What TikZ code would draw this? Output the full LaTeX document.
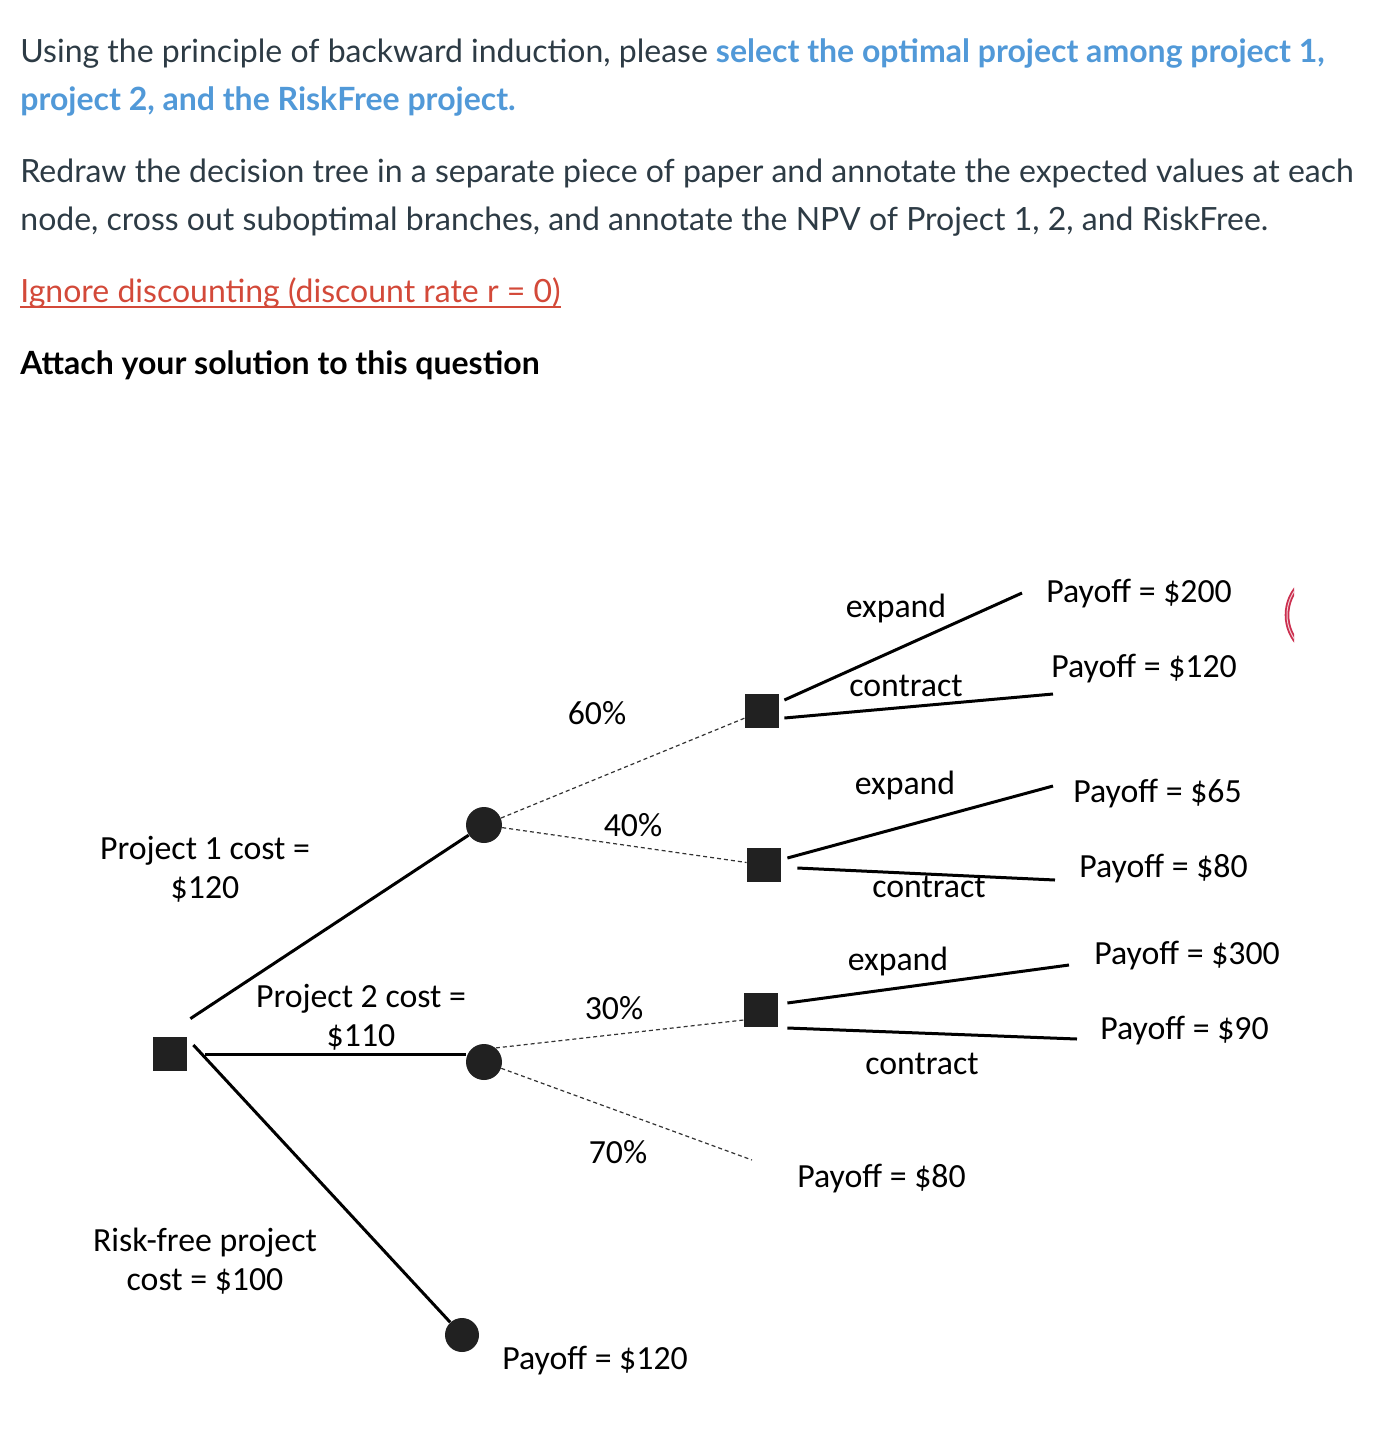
\documentclass[tikz,border=0pt]{standalone}
\usepackage{fontspec}
\setmainfont{Lato}
\newfontfamily\calibri{Carlito}
\usepackage{xcolor}
\usepackage{tikz}
\usetikzlibrary{positioning, calc}
\definecolor{CanvasText}{RGB}{45,59,69}
\definecolor{CanvasBlue}{RGB}{81,153,216}
\definecolor{CanvasRed}{RGB}{211,73,57}
\definecolor{RingRed}{RGB}{203,46,78}

\begin{document}
\begin{tikzpicture}[x=0.5pt, y=-0.5pt,
    head/.style={anchor=base west, inner sep=0pt, font=\fontsize{16}{19}\selectfont, text=CanvasText},
    lbl/.style={inner sep=0pt, font=\calibri\fontsize{16.9}{19.5}\selectfont, align=center},
    decision/.style={fill=black!87, minimum size=17pt, inner sep=0pt},
    chance/.style={circle, fill=black!87, minimum size=18pt, inner sep=0pt},
    branch/.style={line width=1.5pt},
    event/.style={dash pattern=on 2pt off 1.5pt, line width=0.6pt, black!80}]
    \fill[white] (0,0) rectangle (1378,1432);
    \useasboundingbox (0,0) rectangle (1378,1432);

    % question text
    \node[head] (intro) at (20,62) {Using the principle of backward induction, please \textcolor{CanvasBlue}{\bfseries select the optimal project among project 1,}};
    \node[head, text=CanvasBlue, font=\fontsize{16}{19}\selectfont\bfseries] (intro2) at (20,110) {project 2, and the RiskFree project.};
    \node[head] (task) at (20,182) {Redraw the decision tree in a separate piece of paper and annotate the expected values at each};
    \node[head] (task2) at (20,230) {node, cross out suboptimal branches, and annotate the NPV of Project 1, 2, and RiskFree.};
    \node[head, text=CanvasRed] (ign) at (20,302) {Ignore discounting (discount rate r = 0)};
    \draw[CanvasRed, line width=1.1pt] ([yshift=-2.5pt]ign.base west) -- ([yshift=-2.5pt]ign.base east);
    \node[head, text=black, font=\fontsize{16}{19}\selectfont\bfseries] (attach) at (20,374) {Attach your solution to this question};

    % cut-off ring at the right
    \begin{scope}
        \clip (1270,580) rectangle (1294,650);
        \draw[RingRed, line width=0.9pt, double=RingRed!25, double distance=0.5pt] (1330,615) circle[radius=43];
    \end{scope}

    % tree nodes
    \node[decision] (root) at (170,1054) {};
    \node[chance] (c1) at (484,825) {};
    \node[chance] (c2) at (484,1062) {};
    \node[chance, minimum size=17pt] (rf) at (462,1335) {};
    \node[decision] (d1) at (762,711) {};
    \node[decision] (d2) at (764,865) {};
    \node[decision] (d3) at (761,1010) {};
    \coordinate (e70) at (752,1160);

    % payoffs
    \node[lbl, anchor=west] (pay200) at (1046,594) {Payoff = \$200};
    \node[lbl, anchor=west] (pay120) at (1051,669) {Payoff = \$120};
    \node[lbl, anchor=west] (pay65) at (1073,794) {Payoff = \$65};
    \node[lbl, anchor=west] (pay80) at (1079,869) {Payoff = \$80};
    \node[lbl, anchor=west] (pay300) at (1094,956) {Payoff = \$300};
    \node[lbl, anchor=west] (pay90) at (1100,1031) {Payoff = \$90};
    \node[lbl, anchor=west] (payweak) at (797,1179) {Payoff = \$80};
    \node[lbl, anchor=west] (payrf) at (502,1361) {Payoff = \$120};

    % projects
    \draw[branch] ([shift={(3,-18)}]root.north east) -- (c1);
    \draw[branch, shorten <=9pt] (root.east) -- (root.east -| c2.west);
    \draw[branch] ([shift={(6,-9)}]root.east) -- (rf);
    \node[lbl] (p1) at (205,869) {Project 1 cost =\\\$120};
    \node[lbl] (p2) at (361,1017) {Project 2 cost =\\\$110};
    \node[lbl] (p3) at (205,1261) {Risk-free project\\cost = \$100};

    % chance branches
    \draw[event] (c1) -- (d1);
    \draw[event] (c1) -- (d2);
    \draw[event] (c2.50) -- ([shift={(0,10)}]d3.west);
    \draw[event] (c2) -- (e70);
    \node[lbl] (q60) at (597,713) {60\%};
    \node[lbl] (q40) at (633,825) {40\%};
    \node[lbl] (q30) at (614,1008) {30\%};
    \node[lbl] (q70) at (618,1152) {70\%};

    % expand / contract
    \draw[branch] ([shift={(5,-11)}]d1.east) -- ([shift={(-24,-1)}]pay200.west);
    \draw[branch] ([shift={(5,7)}]d1.east) -- ([shift={(2,25)}]pay120.west);
    \draw[branch] ([shift={(6,-7)}]d2.east) -- ([shift={(-20,-8)}]pay65.west);
    \draw[branch] ([shift={(16,3)}]d2.east) -- ([shift={(-24,11)}]pay80.west);
    \draw[branch] ([shift={(9,-7)}]d3.east) -- ([shift={(-25,9)}]pay300.west);
    \draw[branch] ([shift={(9,18)}]d3.east) -- ([shift={(-23,8)}]pay90.west);
    \node[lbl] (x1) at (896,608) {expand};
    \node[lbl] (k1) at (906,686) {contract};
    \node[lbl] (x2) at (905,785) {expand};
    \node[lbl] (k2) at (929,887) {contract};
    \node[lbl] (x3) at (898,961) {expand};
    \node[lbl] (k3) at (922,1064) {contract};
\end{tikzpicture}
\end{document}
